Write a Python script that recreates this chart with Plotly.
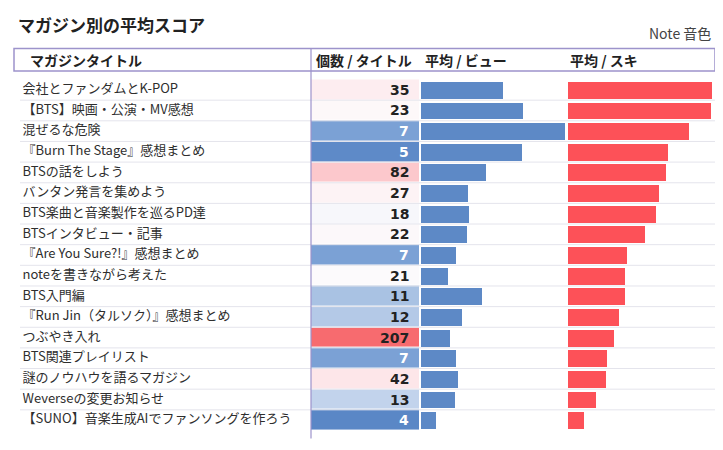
import plotly.graph_objects as go

W, H = 723, 450
OFF = 8  # default page body margin in the browser
FW, FH = W - OFF, H - OFF

titles = [
    "会社とファンダムとK-POP",
    "【BTS】映画・公演・MV感想",
    "混ぜるな危険",
    "『Burn The Stage』感想まとめ",
    "BTSの話をしよう",
    "バンタン発言を集めよう",
    "BTS楽曲と音楽製作を巡るPD達",
    "BTSインタビュー・記事",
    "『Are You Sure?!』感想まとめ",
    "noteを書きながら考えた",
    "BTS入門編",
    "『Run Jin（タルソク）』感想まとめ",
    "つぶやき入れ",
    "BTS関連プレイリスト",
    "謎のノウハウを語るマガジン",
    "Weverseの変更お知らせ",
    "【SUNO】音楽生成AIでファンソングを作ろう",
]
counts = [35, 23, 7, 5, 82, 27, 18, 22, 7, 21, 11, 12, 207, 7, 42, 13, 4]
view_avg = [164, 204, 289, 202, 130, 94, 97, 92, 71, 55, 122, 82, 59, 71, 75, 68, 31]
suki_avg = [36.1, 35.8, 30.2, 25.0, 24.5, 22.8, 22.1, 19.2, 14.8, 14.3, 14.3, 12.7, 11.6, 9.8, 9.6, 7.1, 4.0]

headers = ["マガジンタイトル", "個数 / タイトル", "平均 / ビュー", "平均 / スキ"]
chart_title = "マガジン別の平均スコア"
note_text = "Note 音色"

JP = "Noto Sans CJK JP"
BLUE = "#5d89c6"
RED = "#fd5158"
BORDER = "#9d93cb"

# diverging colour scale for the count column (count value -> colour)
cs_anchors = [
    (4, "#5a87c6"), (5, "#5e8ac8"), (7, "#7ba1d5"), (11, "#a9c2e3"),
    (12, "#b4c9e7"), (13, "#c2d3ec"), (18, "#f7f7fb"), (21, "#fcfafc"),
    (22, "#fcf8fa"), (23, "#fdf8f9"), (27, "#fdf3f5"), (35, "#fdedf0"),
    (42, "#fde6e9"), (82, "#fcc8cc"), (207, "#f76b6f"),
]
cmin, cmax = min(counts), max(counts)
colorscale = [[(v - cmin) / (cmax - cmin), c] for v, c in cs_anchors]


def px(x):
    return (x - OFF) / FW


def py(y):
    return 1 - (y - OFF) / FH


row_top, row_bot = 71.5, 438.5

fig = go.Figure()

# title labels column
fig.add_trace(go.Scatter(
    x=[0] * len(titles), y=titles, text=titles, mode="text",
    textposition="middle right", xaxis="x4", yaxis="y",
    textfont=dict(family=JP, size=13, color="#2e2e2e"),
    hoverinfo="skip", showlegend=False,
))

# count heatmap column
fig.add_trace(go.Heatmap(
    z=[[c] for c in counts], y=titles, x=["n"], xaxis="x", yaxis="y",
    colorscale=colorscale, zmin=cmin, zmax=cmax, showscale=False,
    ygap=1, hoverinfo="skip",
))

# view bars
fig.add_trace(go.Bar(
    x=view_avg, y=titles, orientation="h", xaxis="x2", yaxis="y",
    marker=dict(color=BLUE, line=dict(width=0)), width=0.82,
    hoverinfo="skip", showlegend=False,
))

# suki bars
fig.add_trace(go.Bar(
    x=suki_avg, y=titles, orientation="h", xaxis="x3", yaxis="y",
    marker=dict(color=RED, line=dict(width=0)), width=0.82,
    hoverinfo="skip", showlegend=False,
))

annotations = []
for t, c in zip(titles, counts):
    annotations.append(dict(
        x=0.43, xref="x", y=t, yref="y", text=str(c), showarrow=False,
        xanchor="right", yanchor="middle",
        font=dict(family="DejaVu Sans", size=14, weight="bold",
                  color="#ffffff" if c <= 7 else "#222222"),
    ))

header_x = [28, 314, 423, 568]
for hx, ht in zip(header_x, headers):
    annotations.append(dict(
        x=px(hx), xref="paper", y=py(60), yref="paper", text=ht,
        showarrow=False, xanchor="left", yanchor="middle",
        font=dict(family=JP, size=14, weight="bold", color="#222222"),
    ))

annotations.append(dict(
    x=px(16), xref="paper", y=py(25), yref="paper", text=chart_title,
    showarrow=False, xanchor="left", yanchor="middle",
    font=dict(family=JP, size=17, weight="bold", color="#222222"),
))
annotations.append(dict(
    x=px(713), xref="paper", y=py(33), yref="paper", text=note_text,
    showarrow=False, xanchor="right", yanchor="middle",
    font=dict(family=JP, size=14, color="#444444"),
))

shapes = []
# row separators
for i in range(1, len(titles)):
    shapes.append(dict(
        type="line", xref="paper", yref="y", x0=px(20), x1=px(715),
        y0=i - 0.5, y1=i - 0.5, line=dict(color="#e4e4ec", width=1), layer="above",
    ))
# header box
shapes.append(dict(
    type="rect", xref="paper", yref="paper", x0=px(14), x1=px(715),
    y0=py(71), y1=py(48.5), line=dict(color=BORDER, width=1.5),
))
# count column left border
shapes.append(dict(
    type="line", xref="paper", yref="paper", x0=px(311), x1=px(311),
    y0=py(438.5), y1=py(48.5), line=dict(color=BORDER, width=1.2), layer="above",
))

hidden = dict(visible=False, fixedrange=True)
fig.update_layout(
    width=FW, height=FH, margin=dict(l=0, r=0, t=0, b=0),
    paper_bgcolor="white", plot_bgcolor="rgba(0,0,0,0)",
    showlegend=False, bargap=0,
    xaxis=dict(domain=[px(311), px(419)], range=[-0.5, 0.5], **hidden),
    xaxis2=dict(domain=[px(420.7), px(565)], range=[0, max(view_avg)], anchor="y", **hidden),
    xaxis3=dict(domain=[px(567.7), px(712)], range=[0, max(suki_avg)], anchor="y", **hidden),
    xaxis4=dict(domain=[px(22.5), px(311)], range=[0, 1], anchor="y", **hidden),
    yaxis=dict(domain=[py(row_bot), py(row_top)], type="category",
               categoryorder="array", categoryarray=titles,
               autorange="reversed", **hidden),
    annotations=annotations, shapes=shapes,
)

fig.write_html("out.html")
